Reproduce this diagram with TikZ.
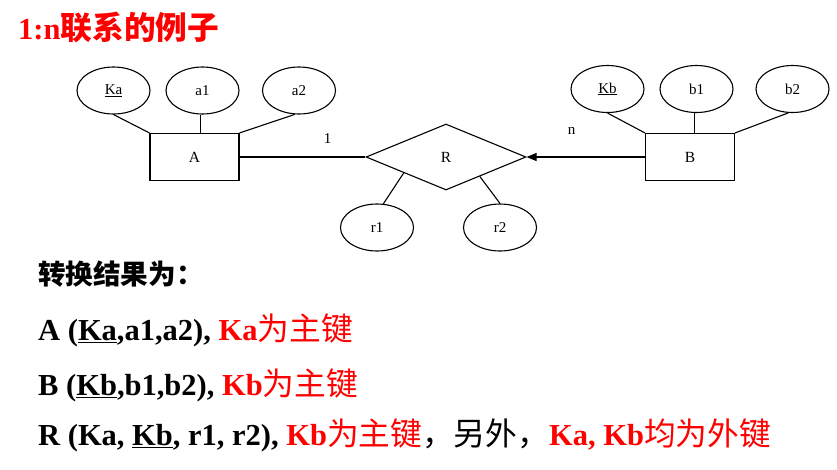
\documentclass[tikz,border=0pt]{standalone}
\usepackage{fontspec}
\setmainfont{Liberation Serif}
\newfontfamily\cjk[Scale=1.04]{Noto Sans CJK SC}
\usetikzlibrary{shapes.geometric}
\usetikzlibrary{positioning}
\usetikzlibrary{arrows.meta,calc}
\definecolor{keyred}{RGB}{255,0,0}
\newcommand{\zh}[1]{{\cjk #1}}
\newcommand{\bigtxt}{\fontsize{30.5}{30.5}\selectfont}

\begin{document}
\begin{tikzpicture}[x=1pt,y=-1pt,
    basic/.style={draw,line width=1.1pt,font=\fontsize{15}{15}\selectfont,inner sep=0pt},
    attr/.style={basic,ellipse,minimum width=73pt,minimum height=47pt},
    entity/.style={basic,rectangle,minimum width=89pt,minimum height=47pt,font=\fontsize{15.5}{15.5}\selectfont},
    rel/.style={basic,diamond,minimum width=160pt,minimum height=66pt,font=\fontsize{15.5}{15.5}\selectfont},
    card/.style={font=\fontsize{15}{15}\selectfont,inner sep=0pt},
    link/.style={line width=1.1pt},
    result/.style={anchor=base west,inner sep=0pt,font=\bigtxt\bfseries},
]
\useasboundingbox (0,0) rectangle (837,469);
% title
\node[result,text=keyred] (title) at (18,39) {1:n\zh{联系的例子}};
% entity A
\node[entity] (A) at (194.5,157) {A};
\node[attr] (Ka) at (113.5,90.5) {\underline{Ka}};
\node[attr] (a1) at (202.5,90.5) {a1};
\node[attr] (a2) at (299,90.5) {a2};
    \draw[link] (Ka.south) -- (A.north west);
    \draw[link] (a1.265) -- (a1.265 |- A.north);
    \draw[link] (a2.260) -- (A.north east);
% relationship R
\node[rel] (R) at (446,157) {R};
\node[attr] (r1) at (377,227.5) {r1};
\node[attr] (r2) at (500,227.5) {r2};
    \draw[link] (r1.75) -- ($(R.west)!0.475!(R.south)$);
    \draw[link] (r2.north) -- ($(R.south)!0.42!(R.east)$);
% entity B
\node[entity] (B) at (690,157) {B};
\node[attr] (Kb) at (607.5,89) {\underline{Kb}};
\node[attr] (b1) at (696.5,89) {b1};
\node[attr] (b2) at (792.5,89) {b2};
    \draw[link] (Kb.south) -- (B.north west);
    \draw[link] (b1.265) -- (b1.265 |- B.north);
    \draw[link] (b2.260) -- (B.north east);
% cardinalities
\draw[link] (A.east) -- node[card,pos=0.7,above=13pt]{1} (R.west);
\draw[link,-{Triangle[length=10pt,width=8pt]}] (B.west) -- node[card,pos=0.62,above=22pt]{n} (R.east);
% result of the conversion
\node[result] (head) at (38,284) {\fontsize{26.5}{26.5}\selectfont\zh{转换结果为：}};
\node[result] (relA) at (38,340) {A (\underline{Ka},a1,a2), \textcolor{keyred}{Ka\zh{\mdseries 为主键}}};
\node[result] (relB) at (38,395) {B (\underline{Kb},b1,b2), \textcolor{keyred}{Kb\zh{\mdseries 为主键}}};
\node[result] (relR) at (38,445) {R (Ka, \underline{Kb}, r1, r2), \textcolor{keyred}{Kb\zh{\mdseries 为主键}}\zh{\mdseries ，另外，}\textcolor{keyred}{Ka, Kb\zh{\mdseries 均为外键}}};
\end{tikzpicture}
\end{document}
